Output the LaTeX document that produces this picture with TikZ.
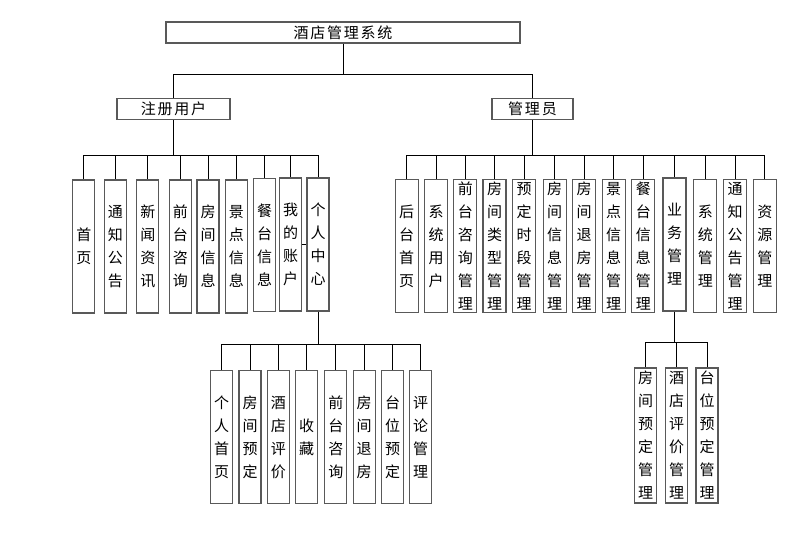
\documentclass[tikz,border=0pt]{standalone}
\usepackage{fontspec}
\setmainfont{Noto Sans CJK SC}
\newfontfamily\widecjk[LetterSpace=12]{Noto Sans CJK SC}
\begin{document}
\begin{tikzpicture}[x=1pt,y=1pt,
  hbox/.style={draw=black!65, line width=1.1pt, inner sep=0pt, minimum height=21pt,
    font=\widecjk\fontsize{15}{18}\selectfont},
  vbox/.style={draw=black!65, line width=1.1pt, inner sep=0pt, minimum width=22pt,
    minimum height=133pt, text width=16pt, align=center,
    font=\fontsize{15}{23}\selectfont},
  link/.style={draw=black, line width=0.8pt}]
\useasboundingbox (0,0) rectangle (785,-539);
\node[hbox, minimum width=354pt] (sys) at (343,-32.5) {酒店管理系统};
\node[hbox, minimum width=113pt] (reg) at (173.5,-109) {注册用户};
\node[hbox, minimum width=81pt] (adm) at (532.5,-109) {管理员};
% registered user
\node[vbox] (r1) at (83.8,-246.5) {首\\页};
\node[vbox] (r2) at (115.3,-246.5) {通\\知\\公\\告};
\node[vbox] (r3) at (147.8,-246.5) {新\\闻\\资\\讯};
\node[vbox] (r4) at (180.3,-246.5) {前\\台\\咨\\询};
\node[vbox] (r5) at (208,-246.5) {房\\间\\信\\息};
\node[vbox] (r6) at (236.3,-246.5) {景\\点\\信\\息};
\node[vbox] (r7) at (264.7,-245) {餐\\台\\信\\息};
\node[vbox] (r8) at (290.7,-244.5) {我\\的\\账\\户};
\node[vbox] (r9) at (318,-244.5) {个\\人\\中\\心};
% personal center
\node[vbox] (p1) at (221.5,-437) {个\\人\\首\\页};
\node[vbox] (p2) at (250,-437) {房\\间\\预\\定};
\node[vbox] (p3) at (278.3,-437) {酒\\店\\评\\价};
\node[vbox] (p4) at (306.5,-437) {收\\藏};
\node[vbox] (p5) at (335.8,-437) {前\\台\\咨\\询};
\node[vbox] (p6) at (364.2,-437) {房\\间\\退\\房};
\node[vbox] (p7) at (392.5,-437) {台\\位\\预\\定};
\node[vbox] (p8) at (420.5,-437) {评\\论\\管\\理};
% administrator
\node[vbox, minimum width=23pt] (a1) at (406.7,-246) {后\\台\\首\\页};
\node[vbox, minimum width=23pt] (a2) at (436,-246) {系\\统\\用\\户};
\node[vbox, minimum width=23pt] (a3) at (465.3,-246) {前\\台\\咨\\询\\管\\理};
\node[vbox, minimum width=23pt] (a4) at (494.5,-246) {房\\间\\类\\型\\管\\理};
\node[vbox, minimum width=23pt] (a5) at (524.2,-246) {预\\定\\时\\段\\管\\理};
\node[vbox, minimum width=23pt] (a6) at (554.7,-246) {房\\间\\信\\息\\管\\理};
\node[vbox, minimum width=23pt] (a7) at (584,-246) {房\\间\\退\\房\\管\\理};
\node[vbox, minimum width=23pt] (a8) at (613.7,-246) {景\\点\\信\\息\\管\\理};
\node[vbox, minimum width=23pt] (a9) at (643.3,-246) {餐\\台\\信\\息\\管\\理};
\node[vbox, minimum width=23pt] (a10) at (674.5,-244.5) {业\\务\\管\\理};
\node[vbox, minimum width=23pt] (a11) at (705.3,-246) {系\\统\\管\\理};
\node[vbox, minimum width=23pt] (a12) at (735,-246) {通\\知\\公\\告\\管\\理};
\node[vbox, minimum width=23pt] (a13) at (764.8,-246) {资\\源\\管\\理};
% business management
\node[vbox, minimum height=135pt] (b1) at (645.5,-435.5) {房\\间\\预\\定\\管\\理};
\node[vbox, minimum height=135pt] (b2) at (676.7,-435.5) {酒\\店\\评\\价\\管\\理};
\node[vbox, minimum height=135pt] (b3) at (707,-435.5) {台\\位\\预\\定\\管\\理};
% connectors
\draw[link] (sys.south) -- ++(0,-30.5) coordinate (j0);
\draw[link] (j0) -| (reg.north);
\draw[link] (j0) -| (adm.north);
\draw[link] (reg.south) -- ++(0,-35) coordinate (j1);
\draw[link] (j1) -| (r1.north);
\draw[link] (j1) -| (r2.north);
\draw[link] (j1) -| (r3.north);
\draw[link] (j1) -| (r4.north);
\draw[link] (j1) -| (r5.north);
\draw[link] (j1) -| (r6.north);
\draw[link] (j1) -| (r7.north);
\draw[link] (j1) -| (r8.north);
\draw[link] (j1) -| (r9.north);
\draw[link] (r8.east) -- (r9.west);
\draw[link] (r9.south) -- ++(0,-33) coordinate (j2);
\draw[link] (j2) -| (p1.north);
\draw[link] (j2) -| (p2.north);
\draw[link] (j2) -| (p3.north);
\draw[link] (j2) -| (p4.north);
\draw[link] (j2) -| (p5.north);
\draw[link] (j2) -| (p6.north);
\draw[link] (j2) -| (p7.north);
\draw[link] (j2) -| (p8.north);
\draw[link] (adm.south) -- ++(0,-35) coordinate (j3);
\draw[link] (j3) -| (a1.north);
\draw[link] (j3) -| (a2.north);
\draw[link] (j3) -| (a3.north);
\draw[link] (j3) -| (a4.north);
\draw[link] (j3) -| (a5.north);
\draw[link] (j3) -| (a6.north);
\draw[link] (j3) -| (a7.north);
\draw[link] (j3) -| (a8.north);
\draw[link] (j3) -| (a9.north);
\draw[link] (j3) -| (a10.north);
\draw[link] (j3) -| (a11.north);
\draw[link] (j3) -| (a12.north);
\draw[link] (j3) -| (a13.north);
\draw[link] (a10.south) -- ++(0,-31) coordinate (j4);
\draw[link] (j4) -| (b1.north);
\draw[link] (j4) -| (b2.north);
\draw[link] (j4) -| (b3.north);
\end{tikzpicture}
\end{document}
